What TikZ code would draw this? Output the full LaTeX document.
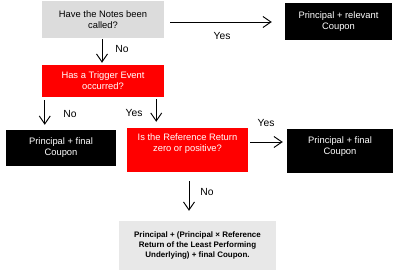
\documentclass[tikz,border=0pt]{standalone}
\usepackage{fontspec}
\setmainfont{Liberation Sans}
\usetikzlibrary{arrows.meta}

\definecolor{boxgrey}{HTML}{DCDCDC}
\definecolor{lightgrey}{HTML}{E8E8E8}
\definecolor{alertred}{HTML}{FF0000}

\tikzset{
  box/.style={rectangle, inner sep=0pt, align=center, font=\fontsize{8}{9.4}\selectfont},
  question/.style={box, fill=boxgrey, text=black},
  trigger/.style={box, fill=alertred, text=white},
  payout/.style={box, fill=black, text=white},
  answer/.style={font=\fontsize{8.8}{10}\selectfont},
  arr/.style={line width=0.8pt, -{Straight Barb[length=2.4mm,width=3.3mm,line width=0.8pt]}}
}

\begin{document}
\begin{tikzpicture}[x=0.03cm, y=-0.03cm]
\useasboundingbox (0,0) rectangle (406,273);

% First question: called?
\node[question, minimum width=3.66cm, minimum height=1.11cm] (called) at (103,19.5) {Have the Notes been\\called?};
\node[payout, minimum width=3.21cm, minimum height=1.11cm] (relevant) at (338.5,21.5) {Principal + relevant\\Coupon};

% Trigger event
\node[trigger, minimum width=3.66cm, minimum height=0.96cm] (event) at (103,81) {Has a Trigger Event\\occurred?};
\node[payout, minimum width=3.30cm, minimum height=1.08cm] (finalleft) at (61,148) {Principal + final\\Coupon};

% Reference return
\node[trigger, minimum width=3.63cm, minimum height=1.32cm, text depth=0.42cm] (refret) at (187.5,150) {Is the Reference Return\\zero or positive?};
\node[payout, minimum width=3.18cm, minimum height=1.32cm, text depth=0.33cm] (finalright) at (340,151) {Principal + final\\Coupon};

% Loss case
\node[box, fill=lightgrey, minimum width=4.71cm, minimum height=1.47cm, font=\fontsize{6.8}{8.5}\selectfont\bfseries] (loss) at (197.5,245.5) {Principal + (Principal × Reference\\Return of the Least Performing\\Underlying) + final Coupon.};

% Arrows
\draw[arr] ([shift={(6,0)}]called.east |- 0,22) -- ([shift={(-13,0)}]relevant.west |- 0,22);
\draw[arr] ([shift={(-1,1)}]called.south) -- ([shift={(-1,-2)}]event.north);
\draw[arr] ([shift={(3,3)}]event.south west) -- ([shift={(3,-5)}]event.south west |- finalleft.north);
\draw[arr] ([shift={(-8,2)}]event.south east) -- ([shift={(-8,-6)}]event.south east |- refret.north);
\draw[arr] ([shift={(2,-8)}]refret.east) -- ([shift={(-4,-8)}]refret.east -| finalright.west);
\draw[arr] ([shift={(1.5,9)}]refret.south) -- ([shift={(1.5,-10)}]refret.south |- loss.north);

% Answers
\node[answer] (yescalled) at (222,36) {Yes};
\node[answer] (nocalled) at (122,49) {No};
\node[answer] (noevent) at (70,114) {No};
\node[answer] (yesevent) at (134,113) {Yes};
\node[answer] (yesref) at (266,123) {Yes};
\node[answer] (noref) at (207,192) {No};

\end{tikzpicture}
\end{document}
